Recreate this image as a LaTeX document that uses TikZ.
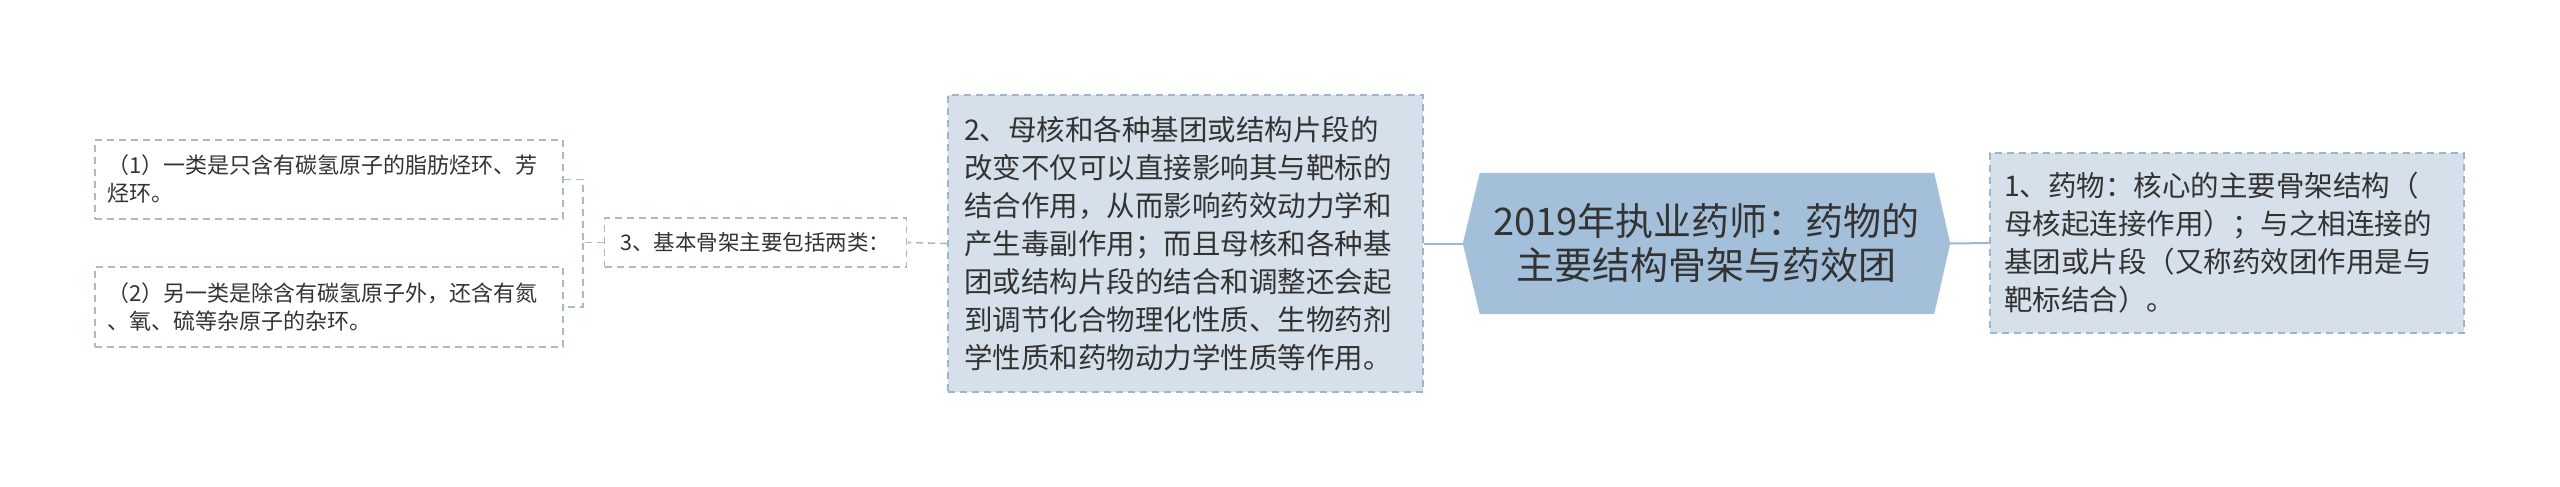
\documentclass[tikz,border=0pt]{standalone}
\usepackage{fontspec}
\setmainfont{Noto Sans CJK SC}
\usetikzlibrary{backgrounds}
\definecolor{hexfill}{HTML}{A3BFDA}
\definecolor{bluefill}{HTML}{D5E0EA}
\definecolor{blueborder}{HTML}{9DB5CB}
\definecolor{greyborder}{HTML}{A9BCC6}
\definecolor{conn}{HTML}{9DB8D2}
\definecolor{txt}{HTML}{333333}
\tikzset{
  dashbox/.style={line width=1.6pt, dash pattern=on 7pt off 5pt, text=txt},
  leafbox/.style={dashbox, draw=greyborder, fill=white, align=left, text width=444pt,
    inner xsep=12pt, inner ysep=0pt, minimum width=468pt, font=\fontsize{22}{28}\selectfont},
  midbox/.style={dashbox, draw=greyborder, fill=white, inner sep=0pt,
    minimum width=302pt, minimum height=49pt, font=\fontsize{21.5}{28}\selectfont},
  bluebox/.style={dashbox, draw=blueborder, fill=bluefill, align=left, inner ysep=0pt},
  rootnode/.style={text=txt, align=center, inner sep=0pt, minimum width=487pt,
    minimum height=141pt, font=\fontsize{38}{44}\selectfont},
  solidconn/.style={draw=conn, line width=2pt},
  dashconn/.style={draw=greyborder, line width=1.6pt, dash pattern=on 7pt off 5pt}
}
\begin{document}
\begin{tikzpicture}[x=1pt,y=-1pt]
\useasboundingbox (0,0) rectangle (2560,487);

\node[rootnode] (root) at (1706.5,243.5) {2019年执业药师：药物的\\主要结构骨架与药效团};
\begin{scope}[on background layer]
\fill[white] (0,0) rectangle (2560,487);
\fill[hexfill] (root.west) -- ([xshift=17pt]root.north west) -- ([xshift=-16pt]root.north east)
  -- (root.east) -- ([xshift=-16pt]root.south east) -- ([xshift=17pt]root.south west) -- cycle;
\end{scope}

\node[bluebox, text width=446pt, inner xsep=14pt, minimum height=180pt,
  font=\fontsize{28.5}{38}\selectfont] (r1) at (2227,243)
  {1、药物：核心的主要骨架结构（\\母核起连接作用）；与之相连接的\\基团或片段（又称药效团作用是与\\靶标结合）。};

\node[bluebox, text width=443pt, inner xsep=16pt, minimum height=297pt,
  font=\fontsize{28.5}{38}\selectfont] (c2) at (1185.5,243.5)
  {2、母核和各种基团或结构片段的\\改变不仅可以直接影响其与靶标的\\结合作用，从而影响药效动力学和\\产生毒副作用；而且母核和各种基\\团或结构片段的结合和调整还会起\\到调节化合物理化性质、生物药剂\\学性质和药物动力学性质等作用。};

\node[midbox] (c3) at (755.5,242.5) {3、基本骨架主要包括两类：};

\node[leafbox, minimum height=79pt] (l1) at (329,179.5)
  {（1）一类是只含有碳氢原子的脂肪烃环、芳\\烃环。};
\node[leafbox, minimum height=80pt] (l2) at (329,307)
  {（2）另一类是除含有碳氢原子外，还含有氮\\、氧、硫等杂原子的杂环。};

\draw[solidconn] (root.east) -- (r1.west);
\draw[solidconn] (root.west) -- (c2.east);
\draw[dashconn] (c2.west) -- (c3.east);
\coordinate (fork) at ([xshift=-21pt]c3.west);
\draw[dashconn] (c3.west) -- (fork) |- (l1.east);
\draw[dashconn] (fork) |- (l2.east);
\end{tikzpicture}
\end{document}
